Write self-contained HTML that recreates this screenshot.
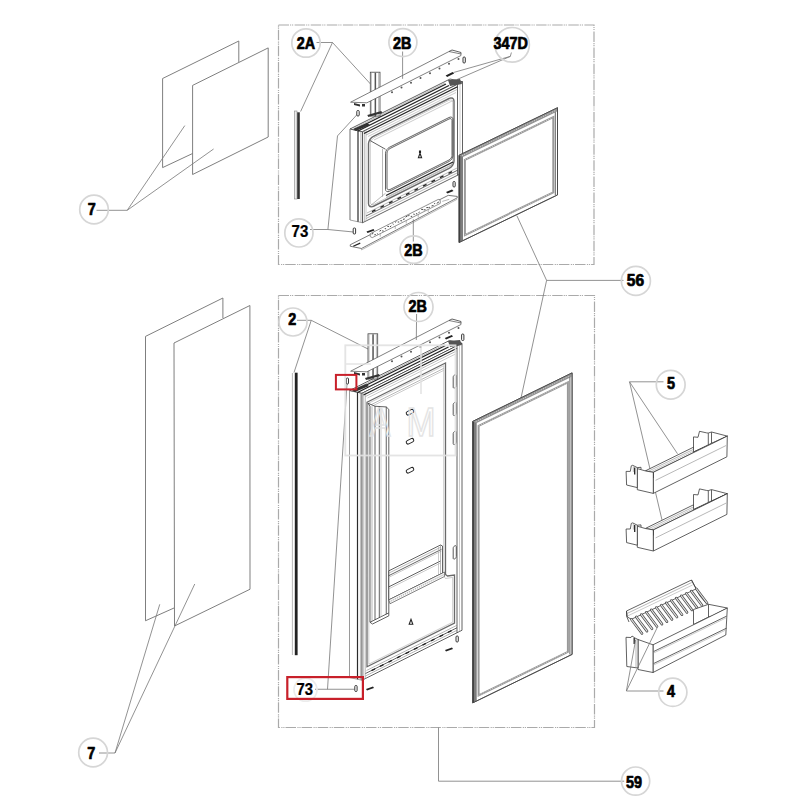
<!DOCTYPE html>
<html><head><meta charset="utf-8"><style>
html,body{margin:0;padding:0;background:#fff;width:800px;height:800px;overflow:hidden}
svg{display:block}
.lb{font-family:"Liberation Sans",sans-serif;font-weight:bold;font-size:16px;fill:#000;stroke:#000;stroke-width:0.7;stroke-linejoin:round;text-anchor:middle}
.lb2{stroke-width:0.25}
.ring{fill:none;stroke:#d6d6d6;stroke-width:1.7}
.ld{stroke:#767676;stroke-width:0.8;fill:none}
.gp{stroke:#787878;stroke-width:0.95;fill:none;stroke-linejoin:miter}
.ln{stroke:#3a3a3a;stroke-width:0.8;fill:none;stroke-linejoin:round}
.lt{stroke:#888;stroke-width:0.6;fill:none}
.lw{stroke:#aaa;stroke-width:0.6;fill:none}
.dk{stroke:#222;stroke-width:1.3;fill:none}
.fw{fill:#fff;stroke:#3a3a3a;stroke-width:0.8;stroke-linejoin:round}
.bx{fill:none;stroke:#aaa;stroke-width:1.2;stroke-dasharray:10.5 1 1.2 0.8 1.2 1.4}
.wm{fill:none;stroke:#ececec;stroke-width:1.8}
</style></head><body>
<svg width="800" height="800" viewBox="0 0 800 800">
<rect width="800" height="800" fill="#fff"/>

<rect class="bx" x="278.5" y="25" width="315.5" height="239.5"/>
<rect class="bx" x="278.5" y="295.5" width="316" height="432"/>
<polyline class="ld" points="96.5,210.3 127.2,210.3 184.8,125.6"/>
<polyline class="ld" points="127.2,210.3 213.6,149"/>
<polyline class="ld" points="99,753 115,753 159.75,604.3"/>
<polyline class="ld" points="115,753 194.75,584"/>
<polyline class="ld" points="316.5,42.5 332.5,42.5 300.6,111.5"/>
<polyline class="ld" points="332.5,42.5 370.5,84"/>
<polyline class="ld" points="511.4,52.5 510.3,56.4 453.5,72.5"/>
<polyline class="ld" points="510.3,56.4 457,79.5"/>
<polyline class="ld" points="310,229.5 327.9,229.5 353.5,232"/>
<polyline class="ld" points="327.9,229.5 337.5,135.9 357.6,114"/>
<polyline class="ld" points="623.5,280.4 546.6,280.4 516.9,215.75"/>
<polyline class="ld" points="546.6,280.4 521,398"/>
<polyline class="ld" points="297,320.3 311.25,320.3 294,372.5"/>
<polyline class="ld" points="311.25,320.3 368,349"/>
<polyline class="ld" points="663.5,381.8 629.5,381.8 677.5,453.75"/>
<polyline class="ld" points="629.5,381.8 662,520"/>
<polyline class="ld" points="438.5,727.6 438.5,781.2 624.2,781.2"/>
<polyline class="ld" points="315,689.25 354.5,689.25"/>
<polyline class="ld" points="327.5,689.25 347,384"/>
<polyline class="gp" points="238.8,62 238.8,41 162.6,78.5 162.6,167.6 192.6,153.5"/>
<polygon class="gp" points="192.6,85.4 268.2,47.9 268.2,137 192.6,174.5"/>
<polyline class="gp" points="222.9,318 222.9,298 145.5,336.4 145.5,620.75 174,608"/>
<polygon class="gp" points="174,343 249.9,305.5 250,589.25 174.5,626"/>
<rect x="294.4" y="111" width="2.6" height="88" fill="#ececec" stroke="#888" stroke-width="0.6"/>
<rect x="297.2" y="112.3" width="2.6" height="86.7" fill="#333"/>
<line x1="292.4" y1="373" x2="292.4" y2="655" stroke="#888" stroke-width="0.6"/>
<rect x="294.8" y="372.7" width="2.8" height="282.5" fill="#222"/>
<polygon style="fill:#fff;stroke:#9a9a9a;stroke-width:0.9" points="350,129 362.5,131.75 362.5,222.75 350,220"/>
<polygon class="fw" points="350,129 450,79 462.5,81.75 362.5,131.75"/>
<polygon class="fw" points="362.5,131.75 462.5,81.75 462.5,172.75 362.5,222.75"/>
<polyline style="stroke:#2a2a2a;stroke-width:1.2;fill:none" points="358,130.8 358,221.8"/>
<polyline class="lt" points="360.9,131.35 360.9,222.45"/>
<polyline style="stroke:#9a9a9a;stroke-width:1;fill:none" points="350,129 350,220"/>
<polyline class="dk" points="355,129.5 446,84"/>
<polyline class="dk" points="358,131 449,85.5"/>
<polyline class="lt" points="354,128.5 445,83"/>
<polyline class="lt" points="364.3,130.85 364.3,221.85"/>
<polyline class="lw" points="366,130 366,221"/>
<polyline class="ln" points="457.5,84.25 457.5,175.25"/>
<polyline class="lw" points="460,83 460,174"/>
<polyline class="dk" points="364,133.5 457.5,86.75"/>
<polyline class="lt" points="366,135 457.5,89.25"/>
<polyline class="lw" points="368,136.5 456,92.5"/>
<polyline class="lt" points="366,218.5 457.5,172.75"/>
<polyline class="ln" points="366,216 457.5,170.25"/>
<polyline class="lt" points="367,213 457.5,167.75"/>
<polygon style="fill:none;stroke:#6a6a6a;stroke-width:1.4" points="449,98.5 450.91,97.92 452.54,98.2 453.62,99.28 454,101 454,161 453.62,163.1 452.54,165.27 450.91,167.16 449,168.5 373.5,206.25 371.59,206.83 369.96,206.55 368.88,205.47 368.5,203.75 368.5,143.75 368.88,141.65 369.96,139.48 371.59,137.59 373.5,136.25"/>
<polygon class="lw" points="448.8,100.4 450.33,99.94 451.63,100.16 452.5,101.02 452.8,102.4 452.8,160.9 452.5,162.58 451.63,164.31 450.33,165.83 448.8,166.9 374.3,204.15 372.77,204.61 371.47,204.39 370.6,203.53 370.3,202.15 370.3,143.65 370.6,141.97 371.47,140.24 372.77,138.72 374.3,137.65"/>
<polyline class="lt" points="382.5,148.75 382.5,196.75"/>
<polygon class="ln" points="449,117.5 450.53,117.04 451.83,117.26 452.7,118.12 453,119.5 453,155.5 452.7,157.18 451.83,158.91 450.53,160.43 449,161.5 389.5,191.25 387.97,191.71 386.67,191.49 385.8,190.63 385.5,189.25 385.5,153.25 385.8,151.57 386.67,149.84 387.97,148.32 389.5,147.25"/>
<polygon class="ln" points="449,119 450.15,118.65 451.12,118.82 451.77,119.47 452,120.5 452,155.5 451.77,156.76 451.12,158.06 450.15,159.2 449,160 390,189.5 388.85,189.85 387.88,189.68 387.23,189.03 387,188 387,153 387.23,151.74 387.88,150.44 388.85,149.3 390,148.5"/>
<polyline class="ln" points="370,140.5 385.5,149.25"/>
<polyline class="lt" points="370,206 385.5,193.25"/>
<polyline class="lw" points="374,140 453,100.5"/>
<polyline class="dk" points="386,195.5 453,162"/>
<polyline class="lt" points="386,197.5 453,164"/>
<polyline class="dk" points="372,211.7 375.5,209.95"/>
<polyline class="dk" points="380.5,207.45 384,205.7"/>
<polyline class="dk" points="389,203.2 392.5,201.45"/>
<polyline class="dk" points="397.5,198.95 401,197.2"/>
<polyline class="dk" points="406,194.7 409.5,192.95"/>
<polyline class="dk" points="414.5,190.45 418,188.7"/>
<polyline class="dk" points="423,186.2 426.5,184.45"/>
<polyline class="dk" points="431.5,181.95 435,180.2"/>
<polyline class="dk" points="440,177.7 443.5,175.95"/>
<polyline class="dk" points="448.5,173.45 452,171.7"/>
<path d="M418.4,157.8 l1.6,-4.6 l1.6,4.6 z M419.5,152.5 l1,0 l0,-1.5 l-1,0z" fill="#fff" stroke="#222" stroke-width="1.1"/>
<path d="M353,129 l14,-6 l3,2 l-14,6z" fill="#333"/>
<path d="M448,80 l12,-1 l2,5 l-12,2z" fill="#555"/>
<polygon style="fill:#fff;stroke:#9a9a9a;stroke-width:0.9" points="349.5,390.5 362,393.25 362,680.25 349.5,677.5"/>
<polygon class="fw" points="349.5,390.5 449.5,340.5 462,343.25 362,393.25"/>
<polygon class="fw" points="362,393.25 462,343.25 462,630.25 362,680.25"/>
<polyline style="stroke:#2a2a2a;stroke-width:1.2;fill:none" points="357.5,392.3 357.5,679.3"/>
<polyline class="lt" points="360.4,392.85 360.4,679.95"/>
<polyline style="stroke:#9a9a9a;stroke-width:1;fill:none" points="349.5,390.5 349.5,677.5"/>
<polyline class="dk" points="354.5,391 445.5,345.5"/>
<polyline class="dk" points="357.5,392.5 448.5,347"/>
<polyline class="lt" points="353.5,390 444.5,344.5"/>
<polyline class="lt" points="363.8,392.35 363.8,679.35"/>
<polyline class="lw" points="365.5,391.5 365.5,678.5"/>
<polyline class="ln" points="457,345.75 457,632.75"/>
<polyline class="lw" points="459.5,344.5 459.5,631.5"/>
<polyline class="dk" points="363.5,395 457,348.25"/>
<polyline class="lt" points="365.5,396.5 457,350.75"/>
<polyline class="lw" points="367.5,398 455.5,354"/>
<polyline class="lt" points="365.5,676 457,630.25"/>
<polyline class="ln" points="365.5,673.5 457,627.75"/>
<polyline class="lt" points="366.5,670.5 457,625.25"/>
<polygon style="fill:none;stroke:#6a6a6a;stroke-width:1.3" points="367,402.25 445.5,363 445.5,574.5 447.5,576 454.5,575 454.5,623 367,666.75"/>
<polygon class="lw" points="368.8,403.15 443.7,365.7 443.7,575.9 445.5,578.5 452.7,577.4 452.7,622.2 368.8,664.15"/>
<polyline class="lt" points="370.5,405 443.5,368.5"/>
<polyline class="lw" points="370.5,407 443.5,370.5"/>
<polygon class="fw" points="368,403.25 375,406.25 386.25,406.93 388.8,409.35 388.8,612.85 370,622.25 370,406.25"/>
<polyline class="ln" points="375,406.25 375,619.75"/>
<polyline class="ln" points="379.3,406.6 379.3,617.6"/>
<polyline class="lw" points="381,406.75 381,616.75"/>
<polyline class="ln" points="386.25,406.93 386.25,614.12"/>
<polyline class="lt" points="372,406.25 372,621.25"/>
<polyline class="ln" points="370,622.25 372.5,624 388.8,615.85 388.8,612.85"/>
<polygon style="fill:#fff;stroke:#444;stroke-width:0.9" points="454.8,374.85 455.37,374.68 455.86,374.76 456.19,375.08 456.3,375.6 456.3,385.6 456.19,386.23 455.86,386.88 455.37,387.45 454.8,387.85 454.7,387.9 454.13,388.07 453.64,387.99 453.31,387.67 453.2,387.15 453.2,377.15 453.31,376.52 453.64,375.87 454.13,375.3 454.7,374.9"/>
<polygon style="fill:#fff;stroke:#444;stroke-width:0.9" points="454.8,402.35 455.37,402.18 455.86,402.26 456.19,402.58 456.3,403.1 456.3,413.1 456.19,413.73 455.86,414.38 455.37,414.95 454.8,415.35 454.7,415.4 454.13,415.57 453.64,415.49 453.31,415.17 453.2,414.65 453.2,404.65 453.31,404.02 453.64,403.37 454.13,402.8 454.7,402.4"/>
<polygon style="fill:#fff;stroke:#444;stroke-width:0.9" points="454.8,431.35 455.37,431.18 455.86,431.26 456.19,431.58 456.3,432.1 456.3,442.1 456.19,442.73 455.86,443.38 455.37,443.95 454.8,444.35 454.7,444.4 454.13,444.57 453.64,444.49 453.31,444.17 453.2,443.65 453.2,433.65 453.31,433.02 453.64,432.37 454.13,431.8 454.7,431.4"/>
<polygon style="fill:#fff;stroke:#444;stroke-width:0.9" points="454.8,545.85 455.37,545.68 455.86,545.76 456.19,546.08 456.3,546.6 456.3,556.6 456.19,557.23 455.86,557.88 455.37,558.45 454.8,558.85 454.7,558.9 454.13,559.07 453.64,558.99 453.31,558.67 453.2,558.15 453.2,548.15 453.31,547.52 453.64,546.87 454.13,546.3 454.7,545.9"/>
<rect x="406" y="410.45" width="8" height="3.6" rx="1.8" transform="rotate(-27 410 412.25)" fill="#fff" stroke="#222" stroke-width="1"/>
<rect x="406" y="439.45" width="8" height="3.6" rx="1.8" transform="rotate(-27 410 441.25)" fill="#fff" stroke="#222" stroke-width="1"/>
<rect x="406" y="468.45" width="8" height="3.6" rx="1.8" transform="rotate(-27 410 470.25)" fill="#fff" stroke="#222" stroke-width="1"/>
<polygon class="fw" points="388.8,570.85 440.5,545 442.5,546 442.5,573 388.8,599.85"/>
<polyline class="lt" points="388.8,573.15 440.5,547.3"/>
<polyline class="ln" points="388.8,575.65 441.5,549.3"/>
<polyline class="lw" points="388.8,577.35 441.5,551"/>
<polyline class="ln" points="388.8,586.85 440.5,561"/>
<polyline class="lw" points="388.8,588.85 440.5,563"/>
<polyline class="lw" points="438.5,547 438.5,575"/>
<polyline class="lt" points="440.5,545 440.5,574"/>
<polygon style="fill:#f4f4f4;stroke:#555;stroke-width:0.7" points="388.8,599.85 444.5,572 444.5,576.5 390,603.75"/>
<polyline style="stroke:#777;stroke-width:0.9;stroke-dasharray:0.8 1.4;fill:none" points="389.5,601.8 444,574.55"/>
<polyline class="dk" points="371.5,670.7 375,668.95"/>
<polyline class="dk" points="380,666.45 383.5,664.7"/>
<polyline class="dk" points="388.5,662.2 392,660.45"/>
<polyline class="dk" points="397,657.95 400.5,656.2"/>
<polyline class="dk" points="405.5,653.7 409,651.95"/>
<polyline class="dk" points="414,649.45 417.5,647.7"/>
<polyline class="dk" points="422.5,645.2 426,643.45"/>
<polyline class="dk" points="431,640.95 434.5,639.2"/>
<polyline class="dk" points="439.5,636.7 443,634.95"/>
<polyline class="dk" points="448,632.45 451.5,630.7"/>
<path d="M409.2,624.25 l1.8,-5 l1.8,5 z" fill="#fff" stroke="#222" stroke-width="1.1"/>
<path d="M352,390 l14,-6 l3,2 l-14,6z" fill="#333"/>
<path d="M448,341 l12,-1 l2,5 l-12,2z" fill="#555"/>
<rect x="370.3" y="72.2" width="9.7" height="43.8" fill="#fff" stroke="#444" stroke-width="0.8"/>
<line x1="371.3" y1="72.7" x2="371.3" y2="116" stroke="#888" stroke-width="0.6"/>
<rect x="374.6" y="72.7" width="1.5" height="43.3" fill="#555"/>
<line x1="378.7" y1="72.7" x2="378.7" y2="116" stroke="#888" stroke-width="0.6"/>
<path d="M367.3,115 l14,-4 l1,2 l-14,4 z" fill="#333"/>
<polygon style="fill:#fff;stroke:#555;stroke-width:0.75" points="350.6,102.2 449,51.5 461,54 461,55.5 366.9,102.8"/>
<path d="M354,103 l6,1.5 l0,2 l-6,-1.5z M362,104 l3,0 l0,2.5 l-3,0z" fill="#333"/>
<circle cx="392" cy="92.13" r="1" fill="#555"/>
<circle cx="401.5" cy="87.4" r="1" fill="#555"/>
<circle cx="411" cy="82.68" r="1" fill="#555"/>
<circle cx="420.5" cy="77.96" r="1" fill="#555"/>
<circle cx="430" cy="73.24" r="1" fill="#555"/>
<circle cx="439.5" cy="68.52" r="1" fill="#555"/>
<circle cx="449" cy="63.8" r="1" fill="#555"/>
<circle cx="458.5" cy="59.07" r="1" fill="#555"/>
<polyline class="ln" points="449,51.5 452,50 461,52.5 461,54"/>
<rect x="368" y="333.8" width="9.7" height="45.2" fill="#fff" stroke="#444" stroke-width="0.8"/>
<line x1="369" y1="334.3" x2="369" y2="379" stroke="#888" stroke-width="0.6"/>
<rect x="372.3" y="334.3" width="1.5" height="44.7" fill="#555"/>
<line x1="376.4" y1="334.3" x2="376.4" y2="379" stroke="#888" stroke-width="0.6"/>
<path d="M365,378 l14,-4 l1,2 l-14,4 z" fill="#333"/>
<polygon style="fill:#fff;stroke:#555;stroke-width:0.75" points="350.6,371.2 449,320.5 461,323 461,324.5 366.9,371.8"/>
<path d="M354,372 l6,1.5 l0,2 l-6,-1.5z M362,373 l3,0 l0,2.5 l-3,0z" fill="#333"/>
<circle cx="392" cy="361.13" r="1" fill="#555"/>
<circle cx="401.5" cy="356.4" r="1" fill="#555"/>
<circle cx="411" cy="351.68" r="1" fill="#555"/>
<circle cx="420.5" cy="346.96" r="1" fill="#555"/>
<circle cx="430" cy="342.24" r="1" fill="#555"/>
<circle cx="439.5" cy="337.52" r="1" fill="#555"/>
<circle cx="449" cy="332.8" r="1" fill="#555"/>
<circle cx="458.5" cy="328.07" r="1" fill="#555"/>
<polyline class="ln" points="449,320.5 452,319 461,321.5 461,323"/>
<polygon style="fill:#fff;stroke:#555;stroke-width:0.8" points="350.25,244.75 448.25,195.36 457.25,196.42 457.25,197.82 361.5,248.48 350.25,246.25"/>
<polyline class="lt" points="361.5,248.48 361.5,249.88"/>
<polyline class="lt" points="361.5,249.88 457.25,199.22"/>
<polygon style="fill:#fff;stroke:#666;stroke-width:0.7" points="370.25,233.67 438.25,199.4 440.25,200.39 440.25,203.39 372.25,237.66 370.25,236.67"/>
<polyline style="stroke:#333;stroke-width:0.9;fill:none" points="371.75,234.21 373.38,233.11"/>
<polyline style="stroke:#333;stroke-width:0.9;fill:none" points="374.35,234.8 375.81,234.55"/>
<polyline style="stroke:#333;stroke-width:0.9;fill:none" points="376.95,233.49 377.77,234"/>
<polyline style="stroke:#333;stroke-width:0.9;fill:none" points="379.55,231.18 381.12,230.22"/>
<polyline style="stroke:#333;stroke-width:0.9;fill:none" points="382.15,230.87 383.61,231.06"/>
<polyline style="stroke:#333;stroke-width:0.9;fill:none" points="384.75,228.56 386.11,228.84"/>
<polyline style="stroke:#333;stroke-width:0.9;fill:none" points="387.35,226.35 389.04,226.48"/>
<polyline style="stroke:#333;stroke-width:0.9;fill:none" points="389.95,226.94 391.3,225.79"/>
<polyline style="stroke:#333;stroke-width:0.9;fill:none" points="392.55,223.73 393.57,224.34"/>
<polyline style="stroke:#333;stroke-width:0.9;fill:none" points="395.15,222.42 396.37,221.36"/>
<polyline style="stroke:#333;stroke-width:0.9;fill:none" points="397.75,222.01 399.21,222"/>
<polyline style="stroke:#333;stroke-width:0.9;fill:none" points="400.35,220.7 402.15,220.86"/>
<polyline style="stroke:#333;stroke-width:0.9;fill:none" points="402.95,219.39 404.77,218.95"/>
<polyline style="stroke:#333;stroke-width:0.9;fill:none" points="405.55,217.18 407.58,215.82"/>
<polyline style="stroke:#333;stroke-width:0.9;fill:none" points="408.15,215.87 409.64,215.05"/>
<polyline style="stroke:#333;stroke-width:0.9;fill:none" points="410.75,216.46 412.16,216.31"/>
<polyline style="stroke:#333;stroke-width:0.9;fill:none" points="413.35,214.15 414.74,214.36"/>
<polyline style="stroke:#333;stroke-width:0.9;fill:none" points="415.95,213.84 417.24,213.68"/>
<polyline style="stroke:#333;stroke-width:0.9;fill:none" points="418.55,212.53 419.68,212.03"/>
<polyline style="stroke:#333;stroke-width:0.9;fill:none" points="421.15,209.32 423.15,209.49"/>
<polyline style="stroke:#333;stroke-width:0.9;fill:none" points="423.75,209.91 425.52,209.7"/>
<polyline style="stroke:#333;stroke-width:0.9;fill:none" points="426.35,207.6 428.5,207.55"/>
<polyline style="stroke:#333;stroke-width:0.9;fill:none" points="428.95,207.29 429.9,207.42"/>
<polyline style="stroke:#333;stroke-width:0.9;fill:none" points="431.55,205.97 433.51,205.46"/>
<polyline style="stroke:#333;stroke-width:0.9;fill:none" points="434.15,203.66 435.12,203.49"/>
<polyline style="stroke:#333;stroke-width:0.9;fill:none" points="436.75,203.35 438.94,201.9"/>
<polyline class="lt" points="380.25,233.63 380.25,236.63"/>
<polyline class="lt" points="395.25,226.07 395.25,229.07"/>
<polyline class="lt" points="406.25,220.53 406.25,223.53"/>
<polyline class="lt" points="418.25,214.48 418.25,217.48"/>
<polyline class="lt" points="428.25,209.44 428.25,212.44"/>
<polyline class="dk" points="353.25,246.24 360.25,243.21"/>
<polyline class="lt" points="442.25,201.38 449.25,199.35"/>
<rect x="353.2" y="228" width="2.4" height="6" rx="1" fill="#fff" stroke="#222" stroke-width="0.9"/>
<path d="M366.5,231.5 l7,-2.5 l1,1.5 l-7,2.5z" fill="#222"/>
<rect x="356.8" y="110.5" width="2.4" height="5.5" rx="1" fill="#fff" stroke="#222" stroke-width="0.9"/>
<rect x="463" y="57" width="2.3" height="6" rx="1" fill="#fff" stroke="#222" stroke-width="0.9"/>
<path d="M445.6,75.5 l7,-3.5 l1.5,1.5 l-7,3.5z" fill="#222"/>
<rect x="453" y="181.5" width="2.2" height="5.5" rx="1" fill="#fff" stroke="#222" stroke-width="0.9"/>
<path d="M446,192 l6,-2.5 l1.5,1.5 l-6,2.5z" fill="#222"/>
<rect x="346.3" y="378" width="2.2" height="6" rx="1" fill="#fff" stroke="#222" stroke-width="0.9"/>
<rect x="354.8" y="685.5" width="2.3" height="6" rx="1" fill="#fff" stroke="#222" stroke-width="0.9"/>
<path d="M366,689 l7,-2.5 l1,1.5 l-7,2.5z" fill="#222"/>
<rect x="456" y="636" width="2.3" height="6" rx="1" fill="#fff" stroke="#222" stroke-width="0.9"/>
<path d="M445,650 l7,-2.5 l1,1.5 l-7,2.5z" fill="#222"/>
<rect x="461.6" y="334" width="2.3" height="6.5" rx="1" fill="#fff" stroke="#222" stroke-width="0.9"/>
<path d="M444.8,338 l7,-3 l1.2,1.5 l-7,3z" fill="#222"/>
<polygon class="fw" points="459,155.3 557.5,107.72 557.5,194.92 459,242.5"/>
<polygon points="459,155.3 463,154.87 463,240.57 459,242.5" fill="#7c7c7c"/>
<polyline style="stroke:#3a3a3a;stroke-width:1.1;fill:none" points="459.6,155.51 459.6,242.21"/>
<polygon points="459,155.3 557.5,107.72 556.7,111.71 463,156.97" fill="#929292"/>
<polyline style="stroke:#e2e2e2;stroke-width:0.9;stroke-dasharray:0.9 1.6;fill:none" points="462,155.65 555.5,110.49"/>
<polygon style="fill:none;stroke:#999;stroke-width:2" points="464.9,159.85 553.3,117.15 553.3,192.35 464.9,235.05"/>
<polyline style="stroke:#e0e0e0;stroke-width:0.8;stroke-dasharray:0.9 1.6;fill:none" points="465,159.8 553.1,117.25"/>
<polyline style="stroke:#e0e0e0;stroke-width:0.8;stroke-dasharray:0.9 1.6;fill:none" points="465,235 553.1,192.45"/>
<polyline class="ln" points="555.3,112.19 555.3,194.99"/>
<polygon style="fill:none;stroke:#444;stroke-width:0.8" points="459,155.3 557.5,107.72 557.5,194.92 459,242.5"/>
<polygon class="fw" points="472.7,421.4 572.1,372.89 572.1,654.39 472.7,702.9"/>
<polygon points="472.7,421.4 476.7,420.95 476.7,700.95 472.7,702.9" fill="#7c7c7c"/>
<polyline style="stroke:#3a3a3a;stroke-width:1.1;fill:none" points="473.3,421.61 473.3,702.61"/>
<polygon points="472.7,421.4 572.1,372.89 571.3,376.88 476.7,423.05" fill="#929292"/>
<polyline style="stroke:#e2e2e2;stroke-width:0.9;stroke-dasharray:0.9 1.6;fill:none" points="475.7,421.74 570.1,375.67"/>
<polygon style="fill:none;stroke:#999;stroke-width:2" points="478.6,425.92 567.9,382.34 567.9,651.84 478.6,695.42"/>
<polyline style="stroke:#e0e0e0;stroke-width:0.8;stroke-dasharray:0.9 1.6;fill:none" points="478.7,425.87 567.7,382.44"/>
<polyline style="stroke:#e0e0e0;stroke-width:0.8;stroke-dasharray:0.9 1.6;fill:none" points="478.7,695.37 567.7,651.94"/>
<polyline class="ln" points="569.9,377.37 569.9,654.47"/>
<polygon style="fill:none;stroke:#444;stroke-width:0.8" points="472.7,421.4 572.1,372.89 572.1,654.39 472.7,702.9"/>
<polygon class="fw" points="693.5,452 693.5,436.9 698,437.3 699.5,431.3 706.3,432.8 708.1,433.1 711.5,432 727.3,436.1 712,444 693.5,452"/>
<polyline class="ln" points="708.3,433.2 708.3,445"/>
<polyline class="ln" points="711.5,432.2 711.5,443.5"/>
<polygon class="fw" points="645.3,470.9 693.5,447.2 693.5,452 711.5,443.3 727.3,436.1 653.3,472.3"/>
<polyline class="lt" points="648,471.4 693.5,449.3"/>
<polyline class="lw" points="650.5,472 693.5,451"/>
<polygon class="fw" points="653.3,472.3 727.3,436.1 726.9,456.8 653.3,493.4"/>
<polyline class="lt" points="655.6,480.3 726.1,445.5"/>
<polyline class="dk" points="653.3,472.3 653.3,478"/>
<polygon class="fw" points="637.3,468.6 645.3,470.9 653.3,472.3 653.3,493.4 637.3,489.7"/>
<polygon class="fw" points="626.1,471.4 630.3,471.4 631.3,465.8 632.7,465.3 637.3,467.6 637.3,487.6 626.6,485"/>
<polyline class="dk" points="634.7,467.5 634.7,474.5"/>
<polyline class="lt" points="633.3,466.5 633.3,472"/>
<polyline class="ln" points="637.3,467.6 641,467.3 641,469.4"/>
<polygon class="fw" points="693.5,509.6 693.5,494.5 698,494.9 699.5,488.9 706.3,490.4 708.1,490.7 711.5,489.6 727.3,493.7 712,501.6 693.5,509.6"/>
<polyline class="ln" points="708.3,490.8 708.3,502.6"/>
<polyline class="ln" points="711.5,489.8 711.5,501.1"/>
<polygon class="fw" points="645.3,528.5 693.5,504.8 693.5,509.6 711.5,500.9 727.3,493.7 653.3,529.9"/>
<polyline class="lt" points="648,529 693.5,506.9"/>
<polyline class="lw" points="650.5,529.6 693.5,508.6"/>
<polygon class="fw" points="653.3,529.9 727.3,493.7 726.9,514.4 653.3,551"/>
<polyline class="lt" points="655.6,537.9 726.1,503.1"/>
<polyline class="dk" points="653.3,529.9 653.3,535.6"/>
<polygon class="fw" points="637.3,526.2 645.3,528.5 653.3,529.9 653.3,551 637.3,547.3"/>
<polygon class="fw" points="626.1,529 630.3,529 631.3,523.4 632.7,522.9 637.3,525.2 637.3,545.2 626.6,542.6"/>
<polyline class="dk" points="634.7,525.1 634.7,532.1"/>
<polyline class="lt" points="633.3,524.1 633.3,529.6"/>
<polyline class="ln" points="637.3,525.2 641,524.9 641,527"/>
<polygon class="fw" points="626.5,611 691.5,580 696.3,588.8 631.3,619.3 627.5,617"/>
<polyline class="lt" points="627,613.5 691.7,582.5"/>
<polyline class="lw" points="627.5,616 692.5,585"/>
<polyline class="ln" points="691.5,580 694,585 700,596 706,603"/>
<polyline class="ln" points="626.5,611 626.5,616 629,622"/>
<polyline style="stroke:#4a4a4a;stroke-width:2.6;fill:none;stroke-linecap:round" points="631.3,619.3 642,633.5"/>
<polyline style="stroke:#e4e4e4;stroke-width:1.1;fill:none;stroke-linecap:round" points="631.3,619.3 642,633.5"/>
<polyline style="stroke:#4a4a4a;stroke-width:2.6;fill:none;stroke-linecap:round" points="636.3,616.95 647,631.15"/>
<polyline style="stroke:#e4e4e4;stroke-width:1.1;fill:none;stroke-linecap:round" points="636.3,616.95 647,631.15"/>
<polyline style="stroke:#4a4a4a;stroke-width:2.6;fill:none;stroke-linecap:round" points="641.3,614.6 652,628.8"/>
<polyline style="stroke:#e4e4e4;stroke-width:1.1;fill:none;stroke-linecap:round" points="641.3,614.6 652,628.8"/>
<polyline style="stroke:#4a4a4a;stroke-width:2.6;fill:none;stroke-linecap:round" points="646.3,612.25 657,626.45"/>
<polyline style="stroke:#e4e4e4;stroke-width:1.1;fill:none;stroke-linecap:round" points="646.3,612.25 657,626.45"/>
<polyline style="stroke:#4a4a4a;stroke-width:2.6;fill:none;stroke-linecap:round" points="651.3,609.9 662,624.1"/>
<polyline style="stroke:#e4e4e4;stroke-width:1.1;fill:none;stroke-linecap:round" points="651.3,609.9 662,624.1"/>
<polyline style="stroke:#4a4a4a;stroke-width:2.6;fill:none;stroke-linecap:round" points="656.3,607.55 667,621.75"/>
<polyline style="stroke:#e4e4e4;stroke-width:1.1;fill:none;stroke-linecap:round" points="656.3,607.55 667,621.75"/>
<polyline style="stroke:#4a4a4a;stroke-width:2.6;fill:none;stroke-linecap:round" points="661.3,605.2 672,619.4"/>
<polyline style="stroke:#e4e4e4;stroke-width:1.1;fill:none;stroke-linecap:round" points="661.3,605.2 672,619.4"/>
<polyline style="stroke:#4a4a4a;stroke-width:2.6;fill:none;stroke-linecap:round" points="666.3,602.85 677,617.05"/>
<polyline style="stroke:#e4e4e4;stroke-width:1.1;fill:none;stroke-linecap:round" points="666.3,602.85 677,617.05"/>
<polyline style="stroke:#4a4a4a;stroke-width:2.6;fill:none;stroke-linecap:round" points="671.3,600.5 682,614.7"/>
<polyline style="stroke:#e4e4e4;stroke-width:1.1;fill:none;stroke-linecap:round" points="671.3,600.5 682,614.7"/>
<polyline style="stroke:#4a4a4a;stroke-width:2.6;fill:none;stroke-linecap:round" points="676.3,598.15 687,612.35"/>
<polyline style="stroke:#e4e4e4;stroke-width:1.1;fill:none;stroke-linecap:round" points="676.3,598.15 687,612.35"/>
<polyline style="stroke:#4a4a4a;stroke-width:2.6;fill:none;stroke-linecap:round" points="681.3,595.8 692,610"/>
<polyline style="stroke:#e4e4e4;stroke-width:1.1;fill:none;stroke-linecap:round" points="681.3,595.8 692,610"/>
<polyline style="stroke:#4a4a4a;stroke-width:2.6;fill:none;stroke-linecap:round" points="686.3,593.45 697,607.65"/>
<polyline style="stroke:#e4e4e4;stroke-width:1.1;fill:none;stroke-linecap:round" points="686.3,593.45 697,607.65"/>
<polyline style="stroke:#4a4a4a;stroke-width:2.6;fill:none;stroke-linecap:round" points="691.3,591.1 702,605.3"/>
<polyline style="stroke:#e4e4e4;stroke-width:1.1;fill:none;stroke-linecap:round" points="691.3,591.1 702,605.3"/>
<polyline style="stroke:#4a4a4a;stroke-width:2.6;fill:none;stroke-linecap:round" points="696.3,588.75 707,602.95"/>
<polyline style="stroke:#e4e4e4;stroke-width:1.1;fill:none;stroke-linecap:round" points="696.3,588.75 707,602.95"/>
<polygon class="fw" points="693.5,624.5 693.5,609.5 708.5,604.3 727.3,608 712,616 708.5,617 693.5,624.5"/>
<polyline class="ln" points="708.5,604.3 708.5,617"/>
<polygon class="fw" points="653,644.8 727.3,608 725.8,635 653,672.5"/>
<polyline class="ln" points="653.7,651.5 726.5,616.2"/>
<polyline class="ln" points="653.7,663.5 726.5,628.2"/>
<polyline class="lw" points="653.7,653 726.5,617.7"/>
<polyline class="lw" points="653.7,665 726.5,629.7"/>
<polygon class="fw" points="638,639.5 653,644.8 653,672.5 638,669.5"/>
<polygon class="fw" points="626,637.3 631,637.5 632,636 635,638 638,639.5 638,668 626.8,666.5"/>
<polyline class="dk" points="634.2,638 634.2,644"/>
<polyline class="lt" points="636,638.5 636,668"/>
<polyline class="ld" points="402.6,51.5 402.6,78.8"/>
<polyline class="ld" points="416.6,314 416.3,340"/>
<polyline class="ld" points="413.3,241.5 413.3,219.3"/>
<polyline class="ld" points="663.5,691 626.4,691 635.6,640"/>
<polyline class="ld" points="626.4,691 657,628"/>
<circle class="ring" cx="94" cy="209.5" r="14.3"/>
<circle class="ring" cx="306" cy="43" r="14.2"/>
<circle class="ring" cx="402.9" cy="42.6" r="14"/>
<circle class="ring" cx="512.1" cy="44.8" r="17.3"/>
<circle class="ring" cx="298.9" cy="232.9" r="14.1"/>
<circle class="ring" cx="413.75" cy="249.6" r="13.7"/>
<circle class="ring" cx="635.9" cy="280.9" r="14.5"/>
<circle class="ring" cx="293" cy="322" r="14"/>
<circle class="ring" cx="418.5" cy="307" r="14.5"/>
<circle class="ring" cx="670.7" cy="384.7" r="14.4"/>
<circle class="ring" cx="672.8" cy="692.3" r="14.1"/>
<circle class="ring" cx="93.1" cy="752.5" r="14.4"/>
<circle class="ring" cx="305.5" cy="689.7" r="11.5" style="stroke:#ececec"/>
<circle class="ring" cx="635.6" cy="781.1" r="14.1"/>
<text class="lb" transform="translate(91.75,215) scale(0.900,1)" x="0" y="0">7</text>
<text class="lb" transform="translate(306,48.5) scale(0.900,1)" x="0" y="0">2A</text>
<text class="lb" transform="translate(402.25,48.5) scale(0.900,1)" x="0" y="0">2B</text>
<text class="lb" transform="translate(510.7,48.6) scale(0.900,1)" x="0" y="0">347D</text>
<text class="lb lb2" transform="translate(299.88,236.5) scale(0.940,1)" x="0" y="0">73</text>
<text class="lb" transform="translate(413.5,255.5) scale(0.900,1)" x="0" y="0">2B</text>
<text class="lb" transform="translate(635.5,286) scale(0.970,1)" x="0" y="0">56</text>
<text class="lb" transform="translate(292.3,325.4) scale(0.900,1)" x="0" y="0">2</text>
<text class="lb" transform="translate(417.8,312) scale(0.900,1)" x="0" y="0">2B</text>
<text class="lb" transform="translate(671.08,389) scale(0.900,1)" x="0" y="0">5</text>
<text class="lb" transform="translate(671.05,697.1) scale(0.900,1)" x="0" y="0">4</text>
<text class="lb" transform="translate(91.38,758.75) scale(0.900,1)" x="0" y="0">7</text>
<text class="lb lb2" transform="translate(304.65,695) scale(0.930,1)" x="0" y="0">73</text>
<text class="lb" transform="translate(633.9,787.75) scale(0.900,1)" x="0" y="0">59</text>
<g opacity="0.9" fill="none" stroke="#e2e2e2"><rect x="345.3" y="345.3" width="110.2" height="110.2" stroke-width="1.8"/>
<text transform="translate(380,436) scale(0.75,1)" font-family="Liberation Sans,sans-serif" font-size="41" stroke-width="1.6" text-anchor="middle">A</text>
<text transform="translate(421,436) scale(0.85,1)" font-family="Liberation Sans,sans-serif" font-size="41" stroke-width="1.6" text-anchor="middle">M</text>
<path d="M421,345 V394 M345,364 H371" stroke-width="1.6"/></g>
<rect x="335.9" y="374.9" width="20.5" height="14.5" fill="none" stroke="#c8202a" stroke-width="2"/>
<rect x="287.3" y="677.1" width="75.6" height="21.8" fill="none" stroke="#c8202a" stroke-width="2.2"/>
</svg>
</body></html>
